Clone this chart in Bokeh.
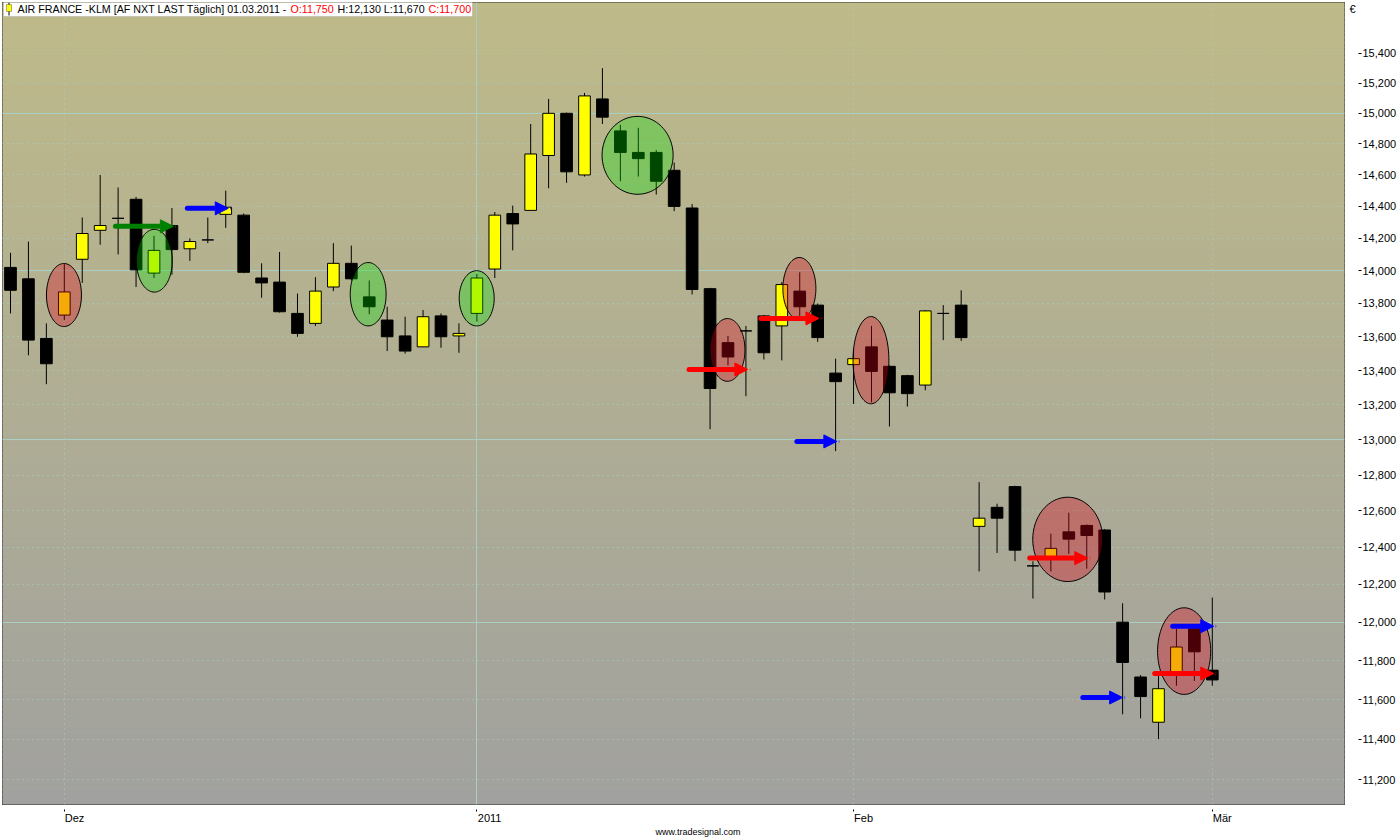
import numpy as np
from bokeh.plotting import figure
from bokeh.models import (Range1d, FixedTicker, NumeralTickFormatter, Grid, Arrow,
                          NormalHead, Label, BoxAnnotation, LinearAxis, LogAxis, Title)
from bokeh.embed import file_html
from bokeh.resources import INLINE

# ---------------- data ----------------
dates = ["2010-11-26", "2010-11-29", "2010-11-30",
         "2010-12-01", "2010-12-02", "2010-12-03", "2010-12-06", "2010-12-07", "2010-12-08",
         "2010-12-09", "2010-12-10", "2010-12-13", "2010-12-14", "2010-12-15", "2010-12-16",
         "2010-12-17", "2010-12-20", "2010-12-21", "2010-12-22", "2010-12-23", "2010-12-24",
         "2010-12-27", "2010-12-28", "2010-12-29", "2010-12-30", "2010-12-31",
         "2011-01-03", "2011-01-04", "2011-01-05", "2011-01-06", "2011-01-07", "2011-01-10",
         "2011-01-11", "2011-01-12", "2011-01-13", "2011-01-14", "2011-01-17", "2011-01-18",
         "2011-01-19", "2011-01-20", "2011-01-21", "2011-01-24", "2011-01-25", "2011-01-26",
         "2011-01-27", "2011-01-28", "2011-01-31",
         "2011-02-01", "2011-02-02", "2011-02-03", "2011-02-04", "2011-02-07", "2011-02-08",
         "2011-02-09", "2011-02-10", "2011-02-11", "2011-02-14", "2011-02-15", "2011-02-16",
         "2011-02-17", "2011-02-18", "2011-02-21", "2011-02-22", "2011-02-23", "2011-02-24",
         "2011-02-25", "2011-02-28",
         "2011-03-01"]

opens = [14020, 13950, 13590, 13730, 14070, 14250, 14325, 14445, 13985, 14280,
         14135, 14190, 14350, 14345, 13955, 13930, 13740, 13680, 13900, 14045,
         13840, 13700, 13605, 13540, 13725, 13605, 13740, 14010, 14355, 14375,
         14725, 15000, 14600, 15095, 14885, 14745, 14745, 14630, 14390, 13890,
         13565, 13635, 13725, 13665, 13875, 13790, 13385, 13435, 13540, 13425,
         13370, 13315, 13740, 13790, 12515, 12620, 12735, 12300, 12340, 12485,
         12520, 12495, 12000, 11715, 11485, 11740, 11965, 11750]
highs = [14110, 14180, 13680, 14040, 14330, 14600, 14520, 14460, 14215, 14390,
         14200, 14330, 14500, 14355, 14045, 14115, 13860, 13960, 14170, 14155,
         13940, 13780, 13720, 13760, 13740, 13680, 13980, 14365, 14405, 14930,
         15095, 15005, 15135, 15300, 14925, 14905, 14760, 14680, 14415, 13895,
         13605, 13665, 13730, 13930, 13990, 13800, 13470, 13525, 13665, 13430,
         13375, 13760, 13790, 13880, 12760, 12640, 12740, 12325, 12475, 12590,
         12525, 12500, 12100, 11725, 11730, 11965, 11975, 12130]
lows = [13740, 13490, 13320, 13700, 13925, 14160, 14100, 13900, 13955, 13975,
        14060, 14170, 14265, 13985, 13835, 13745, 13600, 13665, 13875, 13940,
        13735, 13515, 13500, 13540, 13535, 13505, 13690, 13955, 14125, 14375,
        14515, 14550, 14590, 14930, 14560, 14590, 14475, 14370, 13855, 13060,
        13430, 13250, 13465, 13460, 13710, 13570, 12935, 13205, 13215, 13075,
        13190, 13285, 13580, 13575, 12270, 12370, 12325, 12125, 12270, 12365,
        12285, 12120, 11525, 11505, 11400, 11670, 11695, 11670]
closes = [13880, 13580, 13440, 13870, 14230, 14280, 14325, 14005, 14125, 14130,
          14180, 14190, 14395, 13990, 13925, 13750, 13620, 13875, 14045, 13950,
          13780, 13600, 13515, 13720, 13600, 13620, 13955, 14345, 14290, 14735,
          15000, 14620, 15115, 14975, 14745, 14705, 14560, 14400, 13885, 13295,
          13480, 13635, 13505, 13915, 13780, 13595, 13335, 13470, 13395, 13270,
          13265, 13755, 13740, 13595, 12560, 12560, 12385, 12300, 12395, 12445,
          12465, 12160, 11790, 11615, 11655, 11870, 11845, 11700]

month_label = {"2010-12": "Dez", "2011-01": "2011", "2011-02": "Feb", "2011-03": "Mär"}
y_ticks = [11200, 11400, 11600, 11800, 12000, 12200, 12400, 12600, 12800, 13000,
           13200, 13400, 13600, 13800, 14000, 14200, 14400, 14600, 14800, 15000,
           15200, 15400]
y_major_lines = [12000, 13000, 14000, 15000]
currency_tick = 15700
currency_label = "€"

# candle pattern marks (ellipses): centre index, half width (days), price top / bottom
ellipse_kind = ["red", "green", "green", "green", "green", "red", "red", "red", "red", "red"]
ellipse_x = [2.98, 8.02, 19.94, 25.99, 34.96, 39.97, 43.98, 47.97, 58.94, 65.43]
ellipse_halfw = [0.975, 1.0, 1.0, 0.975, 1.98, 0.975, 0.92, 1.0, 1.95, 1.48]
ellipse_top = [14044, 14256, 14050, 14000, 14980, 13709, 14081, 13721, 12676, 12076]
ellipse_bottom = [13661, 13869, 13665, 13665, 14477, 13337, 13703, 13206, 12216, 11626]

# signal arrows
arrow_color = ["green", "blue", "red", "red", "blue", "red", "blue", "blue", "red"]
arrow_x0 = [5.85, 9.86, 37.83, 41.84, 43.84, 56.82, 59.78, 64.79, 63.79]
arrow_x1 = [9.08, 12.14, 41.11, 45.07, 46.07, 60.06, 62.0, 67.08, 67.08]
arrow_price = [14275, 14388, 13406, 13710, 12990, 12342, 11610, 11979, 11733]

title_parts = ["AIR FRANCE -KLM [AF NXT LAST Täglich] 01.03.2011 -",
               "O:11,750", "H:12,130 L:11,670", "C:11,700"]
title_colors = ["black", "#FF0000", "black", "#FF0000"]
footer = "www.tradesignal.com"

# ---------------- figure ----------------
FONT = "Liberation Sans"
FH = 804
p = figure(width=1399, height=838, x_range=Range1d(-0.446, 74.37),
           y_range=Range1d(11078, 15747), y_axis_type="log",
           x_axis_location=None, y_axis_location=None,
           output_backend="svg", toolbar_location=None,
           min_border_left=2, min_border_top=2, min_border_right=54, min_border_bottom=0)
p.border_fill_color = "white"
p.background_fill_color = "#B0AE98"
p.outline_line_color = "black"
p.outline_line_alpha = 1.0
p.outline_line_width = 1

# gradient background
n = 160
ly = np.linspace(np.log(p.y_range.start), np.log(p.y_range.end), n + 1)
fr = (np.arange(n) + 0.5) / n
bot_c = np.array([161, 161, 159])
top_c = np.array([190, 186, 137])
cols = ["#%02x%02x%02x" % tuple(int(round(v)) for v in bot_c + (top_c - bot_c) * f) for f in fr]
p.quad(left=p.x_range.start, right=p.x_range.end, bottom=np.exp(ly[:-1]), top=np.exp(ly[1:]),
       fill_color=cols, line_color=cols, line_width=1, level="image")

# ticks
month_ticks = [i for i in range(1, len(dates)) if dates[i][:7] != dates[i - 1][:7]]
year_ticks = [i for i in month_ticks if dates[i][:4] != dates[i - 1][:4]]

grid_col = "#A9CFC4"
p.xgrid.ticker = FixedTicker(ticks=month_ticks)
p.xgrid.grid_line_color = grid_col
p.xgrid.grid_line_dash = "1 4"
p.ygrid.ticker = FixedTicker(ticks=y_ticks)
p.ygrid.grid_line_color = grid_col
p.ygrid.grid_line_dash = "1 4"
p.add_layout(Grid(dimension=1, ticker=FixedTicker(ticks=y_major_lines), grid_line_color=grid_col))
p.add_layout(Grid(dimension=0, ticker=FixedTicker(ticks=year_ticks), grid_line_color=grid_col))

# candles
x = np.arange(len(dates))
o = np.array(opens, float); h = np.array(highs, float)
l = np.array(lows, float); c = np.array(closes, float)
body_top = np.maximum(o, c)
body_bot = np.minimum(o, c)
body_col = ["#FFFF00" if cc > oo else "#000000" for oo, cc in zip(o, c)]
p.segment(x0=x, y0=h, x1=x, y1=l, line_color="black", line_width=1)
p.vbar(x=x, width=0.65, top=body_top, bottom=body_bot, fill_color=body_col,
       line_color="black", line_width=1)

# ellipses (drawn in log space)
t = np.linspace(0, 2 * np.pi, 100)
exs, eys, efill, ealpha = [], [], [], []
for k, xc, hw, pt, pb in zip(ellipse_kind, ellipse_x, ellipse_halfw, ellipse_top, ellipse_bottom):
    lc = (np.log(pt) + np.log(pb)) / 2
    lr = (np.log(pt) - np.log(pb)) / 2
    exs.append(list(xc + hw * np.cos(t)))
    eys.append(list(np.exp(lc + lr * np.sin(t))))
    efill.append("#DD0014" if k == "red" else "#00E600")
    ealpha.append(0.335 if k == "red" else 0.31)
p.patches(xs=exs, ys=eys, fill_color=efill, fill_alpha=ealpha, line_color="black", line_width=1)

# arrows
cmap = {"green": "#008000", "blue": "#0000FF", "red": "#FF0000"}
for col, x0, x1, pr in zip(arrow_color, arrow_x0, arrow_x1, arrow_price):
    cc = cmap[col]
    p.add_layout(Arrow(end=NormalHead(size=13, fill_color=cc, line_color=cc, line_width=1),
                       x_start=x0, y_start=pr, x_end=x1, y_end=pr,
                       line_color=cc, line_width=5, line_cap="round"))

# ---- x axis: month tick marks (minor ticks) + left-aligned month labels ----
label_pos = []
label_over = {}
for i in month_ticks:
    name = month_label[dates[i][:7]]
    w = {"Dez": 19.6, "2011": 24.5, "Feb": 19.0, "Mär": 19.0}[name]
    pos = round(i + (0.5 + w / 2) / 17.95, 3)
    label_pos.append(pos)
    label_over[pos] = name
xa = LinearAxis(ticker=FixedTicker(ticks=label_pos, minor_ticks=month_ticks))
xa.major_label_overrides = label_over
xa.major_tick_line_color = None
xa.major_tick_in = 0
xa.major_tick_out = 4
xa.minor_tick_in = -5
xa.minor_tick_out = 7
xa.minor_tick_line_color = "black"
xa.axis_line_color = None
xa.major_label_standoff = 0
xa.major_label_text_font = FONT
xa.major_label_text_font_size = "11px"
xa.major_label_text_color = "black"
p.add_layout(xa, "below")

p.add_layout(Title(text=footer, align="left", offset=653, standoff=0, vertical_align="top",
                   text_font=FONT, text_font_size="9px", text_font_style="normal",
                   text_color="black"), "below")

# ---- y axes: currency sign, then price labels ----
cur_axis = LogAxis(ticker=FixedTicker(ticks=[currency_tick], minor_ticks=[]))
cur_axis.major_label_overrides = {currency_tick: currency_label}
cur_axis.major_tick_line_color = None
cur_axis.major_tick_in = 0
cur_axis.major_tick_out = 0
cur_axis.minor_tick_line_color = None
cur_axis.axis_line_color = None
cur_axis.major_label_standoff = 5
cur_axis.major_label_text_font = FONT
cur_axis.major_label_text_font_size = "11px"
cur_axis.major_label_text_color = "black"
p.add_layout(cur_axis, "right")

ya = LogAxis(ticker=FixedTicker(ticks=y_ticks, minor_ticks=[]))
ya.formatter = NumeralTickFormatter(format="0,0")
ya.major_tick_in = 0
ya.major_tick_out = 3
ya.major_tick_line_color = "black"
ya.minor_tick_line_color = None
ya.axis_line_color = None
ya.major_label_standoff = 1
ya.major_label_text_font = FONT
ya.major_label_text_font_size = "11px"
ya.major_label_text_color = "black"
p.add_layout(ya, "right")

# title box
p.add_layout(BoxAnnotation(left=1, right=470, top=FH, bottom=FH - 16,
                           left_units="screen", right_units="screen",
                           top_units="screen", bottom_units="screen",
                           fill_color="white", fill_alpha=1, line_color="#8A8A8A",
                           line_width=1, level="overlay"))
p.add_layout(BoxAnnotation(left=6, right=7, top=FH - 2, bottom=FH - 15,
                           left_units="screen", right_units="screen",
                           top_units="screen", bottom_units="screen",
                           fill_color="black", fill_alpha=1, line_color=None, level="overlay"))
p.add_layout(BoxAnnotation(left=4, right=9, top=FH - 4, bottom=FH - 11,
                           left_units="screen", right_units="screen",
                           top_units="screen", bottom_units="screen",
                           fill_color="#FFFF00", fill_alpha=1, line_color="black",
                           line_width=1, level="overlay"))
for txt, col, xo in zip(title_parts, title_colors, [15, 288, 335, 426]):
    p.add_layout(Label(x=xo, y=FH - 8, x_units="screen", y_units="screen", text=txt,
                       text_font=FONT, text_font_size="10.7px", text_color=col,
                       text_baseline="middle", level="overlay"))

open("out.html", "w").write(file_html(p, INLINE))
